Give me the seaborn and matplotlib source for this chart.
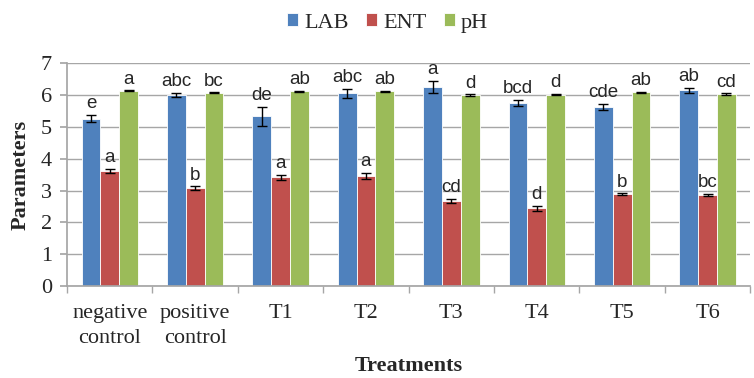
import matplotlib
matplotlib.use("Agg")
import matplotlib.pyplot as plt
import numpy as np
import pandas as pd
import seaborn as sns

sns.set_theme(style="white")
plt.rcParams['font.family'] = ['Liberation Serif', 'DejaVu Serif']

treatments = ["negative\ncontrol", "positive\ncontrol", "T1", "T2", "T3", "T4", "T5", "T6"]
series = ["LAB", "ENT", "pH"]
lab = [5.26, 6.00, 5.33, 6.05, 6.25, 5.75, 5.62, 6.15]
ent = [3.62, 3.07, 3.42, 3.45, 2.67, 2.45, 2.88, 2.87]
ph = [6.13, 6.07, 6.12, 6.11, 6.00, 6.01, 6.08, 6.03]
lab_err = [0.12, 0.07, 0.30, 0.15, 0.20, 0.10, 0.10, 0.08]
ent_err = [0.07, 0.06, 0.08, 0.10, 0.07, 0.08, 0.03, 0.03]
ph_err = [0.02, 0.02, 0.02, 0.02, 0.02, 0.02, 0.02, 0.02]
lab_sig = ["e", "abc", "de", "abc", "a", "bcd", "cde", "ab"]
ent_sig = ["a", "b", "a", "a", "cd", "d", "b", "bc"]
ph_sig = ["a", "bc", "ab", "ab", "d", "d", "ab", "cd"]
colors = ["#4F81BD", "#C0504D", "#9BBB59"]

df = pd.DataFrame({
    "Treatments": treatments * 3,
    "Series": sum([[s] * len(treatments) for s in series], []),
    "Value": lab + ent + ph,
})
errs = [lab_err, ent_err, ph_err]
sigs = [lab_sig, ent_sig, ph_sig]

fig, ax = plt.subplots(figsize=(7.54, 3.78), dpi=100)
sns.barplot(data=df, x="Treatments", y="Value", hue="Series", palette=colors,
            width=0.66, errorbar=None, ax=ax, saturation=1,
            edgecolor="white", linewidth=0.6)

# error bars + significance letters, using the bar positions seaborn made
bar_groups = list(ax.containers)
for i, cont in enumerate(bar_groups):
    for j, bar in enumerate(cont.patches):
        x = bar.get_x() + bar.get_width() / 2
        h = bar.get_height()
        ax.errorbar(x, h, yerr=errs[i][j], fmt="none", ecolor="black",
                    elinewidth=1, capsize=3.5, capthick=1)
        ax.text(x, h + errs[i][j] + 0.08, sigs[i][j], ha="center", va="bottom",
                fontsize=13.5, family=["Liberation Sans", "DejaVu Sans"])

ax.set_ylim(0, 7)
ax.set_xlim(-0.5, len(treatments) - 0.5)
ax.set_yticks(range(0, 8))
ax.yaxis.grid(True, color="#A6A6A6", linewidth=1)
ax.set_axisbelow(True)
for s in ["top", "right"]:
    ax.spines[s].set_visible(False)
for s in ["left", "bottom"]:
    ax.spines[s].set_color("#A6A6A6")
ax.tick_params(axis="y", labelsize=16, left=True, length=5, color="#A6A6A6", pad=6)
ax.tick_params(axis="x", labelsize=16, length=0, pad=13)
for lbl in ax.get_xticklabels():
    lbl.set_linespacing(1.4)
ax.set_xticks(np.arange(-0.5, len(treatments)), minor=True)
ax.tick_params(axis="x", which="minor", length=5, color="#A6A6A6", bottom=True)
ax.set_xlabel("Treatments", fontsize=16, fontweight="bold", labelpad=6)
ax.set_ylabel("Parameters", fontsize=16, fontweight="bold", labelpad=7)

ax.legend(loc="center", bbox_to_anchor=(0.469, 1.18), ncol=3, frameon=False,
          fontsize=16, handlelength=0.5, handleheight=0.5, handletextpad=0.25,
          columnspacing=0.8, borderaxespad=0)

fig.subplots_adjust(left=0.089, right=0.995, top=0.833, bottom=0.243)
fig.savefig("out.png", dpi=100)
